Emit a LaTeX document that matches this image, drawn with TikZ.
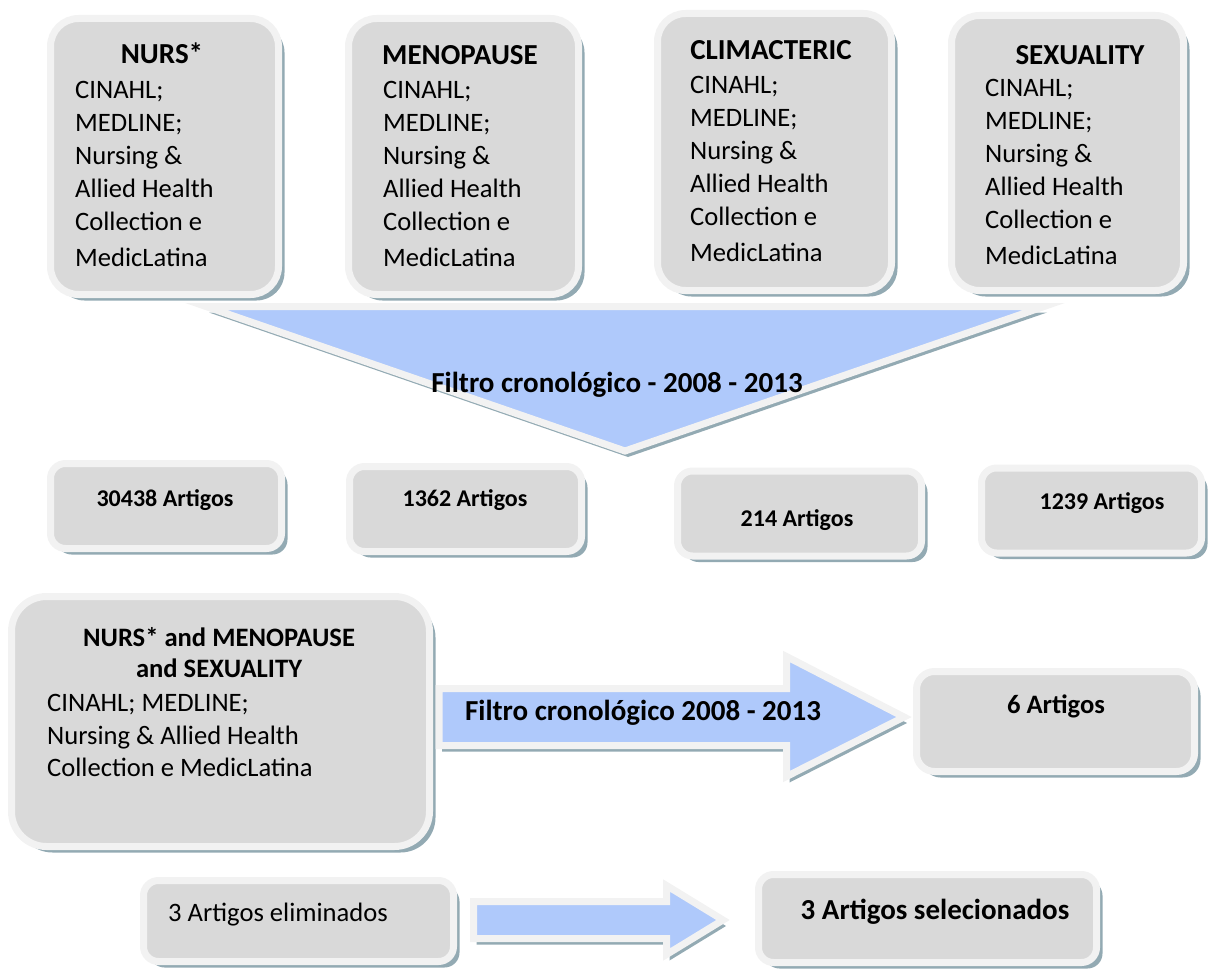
\documentclass[tikz,border=0pt]{standalone}
\usepackage{fontspec}
\setmainfont{Carlito}
\usetikzlibrary{shadows}

\definecolor{cardgray}{HTML}{D9D9D9}
\definecolor{cardrim}{HTML}{F2F2F2}
\definecolor{shadeblue}{HTML}{93AAB3}
\definecolor{filterblue}{HTML}{AFC9FB}

\newcommand{\basesdados}{CINAHL;\\MEDLINE;\\Nursing \&\\Allied Health\\Collection e\\[3pt]MedicLatina}

\begin{document}
\begin{tikzpicture}
  [x=1pt,y=-1pt,
   card/.style={rectangle,rounded corners=#1,fill=cardgray,draw=cardrim,line width=7pt,
     drop shadow={shadow xshift=6pt,shadow yshift=-6pt,fill=shadeblue,opacity=1}},
   card/.default=15pt,
   filterarrow/.style={fill=filterblue,draw=cardrim,line width=7pt,line join=miter,
     drop shadow={shadow xshift=3pt,shadow yshift=-6pt,fill=shadeblue,opacity=1}},
   head/.style={font=\fontsize{29}{33}\selectfont\bfseries,inner sep=0pt},
   body/.style={font=\fontsize{26.6}{33}\selectfont,align=left,inner sep=0pt,anchor=north west},
   tally/.style={font=\fontsize{24}{29}\selectfont\bfseries,inner sep=0pt}]
  \useasboundingbox (0,0) rectangle (1211,971);

  % bases searched, one box per descriptor
  \foreach \name/\cx/\cy/\w/\h in {nurs/164.5/156.5/228/276,meno/463.5/156.5/230/276,
                                   clim/774.5/152/234/277,sexu/1067.5/153/232/275}
    \node[card=28pt,minimum width=\w pt,minimum height=\h pt] (\name) at (\cx,\cy) {};

  \foreach \name/\hx/\hy/\bx/\by/\hd in {nurs/162/53/75/81.5/NURS*,meno/460/55/383/81.5/MENOPAUSE,
                                         clim/771/50/690/76.5/CLIMACTERIC,sexu/1080/55/985/79.5/SEXUALITY}
  {
    \node[head] (\name-head) at (\hx,\hy) {\hd};
    \node[body] (\name-body) at (\bx,\by) {\basesdados};
  }

  % chronological filter
  \draw[filterarrow] (206,306.5) coordinate (tri-a) -- (1044,306.5) coordinate (tri-b)
    -- (625,451) coordinate (tri-tip) -- cycle;
  \node[head] (tri-text) at (617,385) {Filtro cronológico - 2008 - 2013};

  % results per descriptor
  \foreach \name/\cx/\cy/\w/\tx/\ty/\num in {n30438/166/506/231/165/500/30438,n1362/465.5/509/232/465/500/1362,
                                             n214/799.5/513.5/244/797/520/214,n1239/1091.5/510.5/220/1102/503/1239}
  {
    \node[card,minimum width=\w pt,minimum height=85pt] (\name) at (\cx,\cy) {};
    \node[tally] (\name-text) at (\tx,\ty) {\num\ Artigos};
  }

  % combined search
  \node[card=35pt,minimum width=418pt,minimum height=250pt] (combo) at (220.5,721.5) {};
  \node[font=\fontsize{26.6}{31}\selectfont\bfseries,align=center,inner sep=0pt] (combo-head)
    at (219,652.5) {NURS* and MENOPAUSE\\and SEXUALITY};
  \node[body,font=\fontsize{26.6}{32.5}\selectfont] (combo-body) at (47,694.5)
    {CINAHL; MEDLINE;\\Nursing \& Allied Health\\Collection e MedicLatina};

  \draw[filterarrow] (439,688.5) coordinate (arr-a) -- (786.5,688.5) -- (786.5,656.5)
    -- (904,717) coordinate (arr-tip) -- (786.5,776.5) -- (786.5,745.5) -- (439,745.5) -- cycle;
  \node[head] (arr-text) at (643,713) {Filtro cronológico 2008 - 2013};

  \node[card=18pt,minimum width=278pt,minimum height=100pt] (six) at (1055.5,721.5) {};
  \node[font=\fontsize{26.6}{31}\selectfont\bfseries,inner sep=0pt] (six-text) at (1056,706) {6 Artigos};

  % final selection
  \node[card,minimum width=310pt,minimum height=81pt] (elim) at (298.5,921) {};
  \node[font=\fontsize{26.6}{31}\selectfont,inner sep=0pt,anchor=west] (elim-text) at (168,915) {3 Artigos eliminados};

  \draw[filterarrow] (473.5,901.5) coordinate (fin-a) -- (666.5,901.5) -- (666.5,885.5)
    -- (723,920) coordinate (fin-tip) -- (666.5,954.5) -- (666.5,938.5) -- (473.5,938.5) -- cycle;

  \node[card,minimum width=338pt,minimum height=88pt] (sel) at (927.5,918.5) {};
  \node[head] (sel-text) at (935,912) {3 Artigos selecionados};

\end{tikzpicture}
\end{document}
